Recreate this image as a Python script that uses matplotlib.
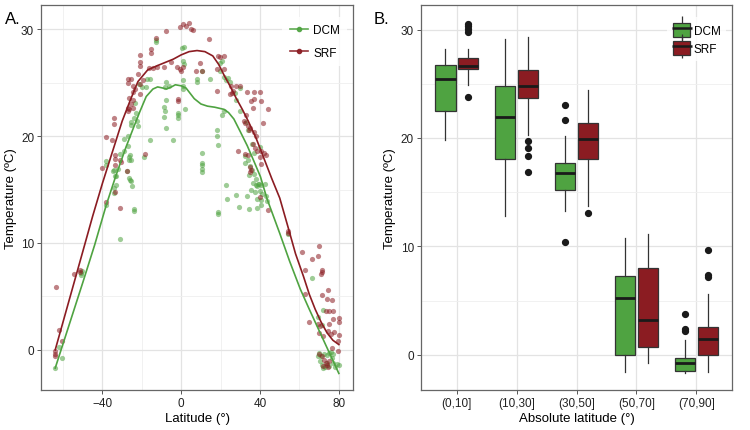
import matplotlib
matplotlib.use("Agg")
import matplotlib.pyplot as plt
from matplotlib.lines import Line2D
from matplotlib.patches import Patch
import numpy as np

plt.rcParams['font.family'] = ['Liberation Sans', 'DejaVu Sans']

GREEN = '#4fa341'
RED = '#8b1c22'

# ---- panel A: scatter (lat, temp) ----
dcm_pts = [
    (-63.9, -1.7), (-60.7, -0.8), (-62, 0.3), (-51, 7.2), (-51, 7.0), (-50.5, 7.4),
    (-38.2, 17.7), (-38, 17.3), (-38.2, 13.6), (-34.3, 16.8), (-33, 16.3), (-33, 15.4),
    (-34.8, 16.7), (-33.5, 16.3), (-34.4, 15.1), (-34.4, 14.7), (-32.3, 16.9), (-31, 10.4),
    (-26.4, 16.1), (-26.2, 15.9), (-25, 15.3), (-25.5, 15.8), (-24, 13.2), (-24, 13.0),
    (-25.5, 17.8), (-25.8, 18.2), (-27.5, 16.7), (-26.6, 18.0), (-26.5, 17.8), (-27, 19.1),
    (-29, 18.6), (-31, 18.3), (-27, 20.0), (-29, 19.7), (-25.5, 21.3), (-25.5, 21.0),
    (-23, 22.2), (-24, 21.7), (-22.5, 21.4), (-21.8, 20.9), (-23.3, 23.1), (-21.5, 24.9),
    (-20, 24.6), (-18, 24.6), (-17.4, 25.3), (-16, 25.3), (-18.7, 18.0), (-16, 19.6),
    (-13, 29.0), (-12.9, 28.8),
    (-7.7, 25.1), (-8.5, 24.6), (-6, 24.7), (-7.7, 23.4), (-8.6, 22.7), (-8.4, 22.3),
    (-7.8, 20.8), (-8.7, 21.8), (-1.8, 22.2), (-1.5, 22.0), (-1.8, 21.7), (-4.3, 19.6),
    (0.7, 27.0), (1.5, 26.7), (0.7, 25.2), (0.7, 24.7), (0.7, 24.4), (2, 22.5),
    (0.5, 28.2), (1.2, 28.3), (7.8, 25.3), (8.2, 25.1), (14.6, 25.3), (10.3, 26.1),
    (19.8, 26.1), (21.6, 25.5), (22.5, 25.2), (23.5, 25.4), (24.8, 25.1), (21.6, 22.3),
    (20.8, 22.0), (18.3, 20.6), (17.9, 20.0), (18.5, 19.2), (10.6, 18.4), (10.6, 16.9),
    (10.6, 16.6), (10.3, 17.5), (10.3, 17.3), (18.4, 12.9), (18.4, 12.7), (22.6, 15.4),
    (28, 14.5), (33.5, 14.4), (29.6, 24.5), (20.5, 27.0), (19.5, 26.8),
    (32.6, 18.1), (32.6, 17.5), (34, 17.8), (35, 17.2), (36, 16.8), (34.5, 16.4),
    (37, 16.5), (38, 16.0), (36.5, 15.6), (38.5, 15.3), (35.5, 15.0), (37.5, 14.8),
    (39, 15.5), (40, 14.9), (40.5, 15.4), (41, 14.6), (43, 14.4), (40.5, 14.0),
    (38, 15.4), (39.5, 15.5), (42.6, 15.5), (38.5, 14.1), (40.5, 13.6), (43.6, 13.9),
    (34.5, 13.2), (38.7, 13.3), (23.2, 14.1), (29.2, 13.4), (36, 19.3), (37, 18.4),
    (40, 19.0), (34, 20.6), (33, 21.3), (30, 22.3), (28, 23.4), (27.5, 24.0),
    (54, 10.8), (66.3, 6.7), (71.8, 3.7), (69.6, 3.1), (71.2, 2.3), (70, -0.3),
    (71, -0.6), (72.5, -0.4), (74, -0.5), (75, -0.3), (76, -0.2), (77, -0.4),
    (71.5, -1.4), (73, -1.6), (75, -1.5), (77, -1.2), (78, -1.6), (79.2, -1.3),
    (80, -1.4), (70.5, -1.0), (74, -1.2), (76.5, -0.8), (72, -1.7), (69.5, -0.6),
]
srf_pts = [
    (-63.5, 5.9), (-62, 1.9), (-60.4, 0.8), (-64, -0.1), (-64, -0.4), (-64, -0.6),
    (-54.6, 7.1), (-51.2, 7.5), (-51.2, 7.3),
    (-40.3, 17.0), (-33.5, 17.9), (-33.5, 17.3), (-30.8, 17.6), (-33.5, 14.8), (-38.2, 13.8),
    (-31.1, 13.3), (-18.6, 18.3), (-34.1, 21.7), (-34, 21.1), (-38, 19.9), (-35, 19.6),
    (-33.8, 18.2), (-31.3, 17.8), (-27.4, 16.7), (-27, 25.3), (-25.4, 25.3), (-27, 25.0),
    (-24.6, 24.7), (-23.3, 24.4), (-24.6, 24.1), (-26.6, 23.6), (-24.6, 23.4), (-26.6, 22.5),
    (-24.6, 22.6), (-21, 24.9), (-21, 23.9), (-27, 22.6), (-27, 22.3), (-25.5, 23.0),
    (-21.2, 27.6), (-21, 26.9), (-21.2, 26.6), (-16.6, 26.4), (-14.4, 26.4), (-12.4, 26.5),
    (-8.6, 26.5), (-5.4, 26.9), (-2, 26.5), (-0.5, 26.3), (0.1, 26.1), (-15.6, 28.1),
    (-15.6, 27.8), (-12.9, 29.2), (-7.7, 29.8), (-0.6, 30.2), (-1.5, 23.5), (-1.5, 23.3),
    (-22, 25.8), (-19.5, 25.2),
    (0.7, 30.5), (2.5, 30.3), (5, 30.0), (6.2, 29.9), (4, 30.6), (14.1, 29.1),
    (0.7, 26.5), (7.6, 26.1), (10.5, 26.1), (9.4, 26.8), (18.5, 27.5), (19.9, 27.4),
    (21.6, 27.5), (17.9, 26.3), (21.6, 26.3), (18.3, 24.2), (24.8, 23.9), (25.6, 24.0),
    (26.5, 24.2), (25, 24.7), (28, 24.7), (29.6, 24.7), (33.2, 24.1), (36.8, 24.1),
    (40.2, 24.1), (35.5, 23.3), (36.8, 23.5), (40.5, 23.3), (36.3, 22.6), (44, 22.5),
    (32.6, 21.2), (34, 20.9), (34.5, 20.6), (35, 20.8), (41.5, 21.2), (37, 20.4),
    (31.6, 21.4), (36.6, 19.3), (37.5, 18.9), (38.3, 18.6), (28.8, 18.6), (32.6, 18.3),
    (34, 18.2), (40.3, 18.6), (43, 18.2), (42, 18.4), (34.9, 17.1), (35.5, 16.8),
    (34.9, 16.6), (39.8, 18.0), (40.3, 17.4), (44, 13.1), (40, 14.3), (38, 20.0), (33, 22.0),
    (54, 11.1), (54, 10.9), (61.2, 9.2), (70, 9.7), (66.4, 8.5), (69.4, 8.8),
    (62.6, 7.5), (71.2, 7.5), (71.5, 7.3), (71, 7.1), (74.3, 5.6), (63, 5.2),
    (71.2, 5.1), (73.9, 4.8), (76.6, 4.7), (73.5, 3.6), (75, 3.6), (77, 3.6),
    (80, 3.0), (80, 2.6), (64.7, 2.6), (69.5, 2.4), (70.5, 2.2), (75, 2.4),
    (77, 2.9), (70, 1.6), (72, 1.3), (74.5, 1.8), (76, 1.5), (77.5, 1.7),
    (80, 1.4), (79.5, 0.8), (76.7, 0.2), (79.5, -0.1), (70, -0.4), (71.5, -0.6),
    (72.5, -0.9), (73.5, -1.2), (74, -1.4), (74.5, -1.6), (72, -1.5), (75, -1.0),
]

# smoothed fits
dcm_fit_lat = [-64, -57, -50, -44, -38, -33, -28, -24, -21, -17.8, -14.4, -12, -9.5, -7.5,
               -5, -3, 0, 2.4, 4.5, 6.6, 10, 13.3, 17, 21.7, 24, 26.7, 30, 33.5, 37,
               40.2, 43.6, 47, 50, 55, 60.4, 65, 70, 75, 80]
dcm_fit_t = [-1.7, 2.3, 6.3, 9.8, 13.6, 16.4, 19.0, 20.9, 22.3, 23.7, 24.4, 24.6, 24.5, 24.4,
             24.6, 24.8, 24.7, 24.5, 24.0, 23.5, 23.0, 22.8, 22.7, 22.5, 22.2, 21.6, 20.4,
             19.1, 17.6, 16.2, 14.1, 12.4, 10.9, 8.3, 5.7, 3.8, 1.8, -0.2, -2.2]
srf_fit_lat = [-64, -57, -50, -45, -40, -35, -30, -26, -22, -17, -12, -8, -4, 0, 4, 8,
               12, 16, 19, 22, 25, 28, 31, 34, 38, 42, 46, 50, 54.5, 58, 62, 65, 68,
               71, 74, 77, 80]
srf_fit_t = [0.0, 4.6, 9.2, 12.5, 15.6, 18.5, 21.4, 23.3, 25.1, 26.2, 26.6, 26.9, 27.2, 27.6,
             27.9, 28.0, 27.9, 27.5, 26.7, 25.6, 24.6, 23.5, 22.5, 21.4, 19.8, 17.9, 16.0,
             14.2, 11.3, 9.0, 6.9, 5.2, 3.8, 2.6, 1.6, 0.9, 0.5]

# ---- panel B: box statistics ----
lat_bins = ['(0,10]', '(10,30]', '(30,50]', '(50,70]', '(70,90]']
# (whislo, q1, med, q3, whishi)
dcm_box = [(19.8, 22.5, 25.45, 26.7, 28.2),
           (12.8, 18.1, 21.9, 24.8, 29.1),
           (13.3, 15.2, 16.8, 17.7, 20.2),
           (-1.6, 0.0, 5.2, 7.3, 10.8),
           (-1.7, -1.5, -0.8, -0.3, 1.4)]
dcm_out = [[], [], [23.0, 21.7, 10.4], [], [3.8, 2.4, 2.2]]
srf_box = [(24.9, 26.4, 26.6, 27.4, 28.2),
           (20.3, 23.7, 24.8, 26.3, 29.3),
           (13.7, 18.1, 19.9, 21.4, 24.4),
           (-0.8, 0.7, 3.2, 8.0, 11.1),
           (-1.6, 0.0, 1.45, 2.55, 5.6)]
srf_out = [[30.5, 30.3, 30.05, 29.8, 23.8], [19.7, 19.1, 18.3, 16.9], [13.1], [], [9.7, 7.4, 7.2]]

fig = plt.figure(figsize=(7.5, 4.31), dpi=100)
axA = fig.add_axes([0.0547, 0.0928, 0.416, 0.893])
axB = fig.add_axes([0.561, 0.0928, 0.4155, 0.893])


def style(ax):
    ax.set_facecolor('white')
    for s in ax.spines.values():
        s.set_color('#666666')
        s.set_linewidth(0.9)
    ax.grid(True, which='major', color='#e3e3e3', lw=0.9, zorder=0)
    ax.grid(True, which='minor', color='#efefef', lw=0.6, zorder=0)
    ax.set_axisbelow(True)
    ax.tick_params(which='major', length=3, width=0.7, color='#555555',
                   labelsize=8.5, labelcolor='#222222', pad=2)
    ax.tick_params(which='minor', length=0)


# ---- A ----
style(axA)
d = np.array(dcm_pts)
s = np.array(srf_pts)
axA.scatter(d[:, 0], d[:, 1], s=14, color=GREEN, alpha=0.55, lw=0, zorder=2)
axA.scatter(s[:, 0], s[:, 1], s=14, color=RED, alpha=0.55, lw=0, zorder=2)
axA.plot(dcm_fit_lat, dcm_fit_t, color=GREEN, lw=1.2, zorder=3)
axA.plot(srf_fit_lat, srf_fit_t, color=RED, lw=1.2, zorder=3)
axA.set_xlim(-71.2, 87.2)
axA.set_ylim(-3.75, 32.25)
axA.set_xticks([-40, 0, 40, 80])
axA.set_xticks([-60, -20, 20, 60], minor=True)
axA.set_yticks([0, 10, 20, 30])
axA.set_yticks([5, 15, 25], minor=True)
axA.set_xticklabels(['\u221240', '0', '40', '80'])
axA.set_xlabel('Latitude (\u00b0)', fontsize=9.5, labelpad=2)
axA.set_ylabel('Temperature (\u00baC)', fontsize=9.5, labelpad=3)
hA = [Line2D([], [], color=GREEN, marker='o', ms=3, lw=1.2, alpha=0.9),
      Line2D([], [], color=RED, marker='o', ms=3, lw=1.2, alpha=0.9)]
legA = axA.legend(hA, ['DCM', 'SRF'], loc='upper right', bbox_to_anchor=(1.0, 0.985),
                  frameon=True, fontsize=8.5, handlelength=1.6, handletextpad=0.4,
                  labelspacing=0.9, borderpad=0.6)
legA.get_frame().set_edgecolor('white')
legA.get_frame().set_linewidth(0)

# ---- B ----
style(axB)
pos = np.arange(1, len(lat_bins) + 1)
off = 0.19
bw = 0.34


def stats(vals, outs, lab):
    lo, q1, med, q3, hi = vals
    return dict(whislo=lo, q1=q1, med=med, q3=q3, whishi=hi, fliers=outs, label=lab)


for box, outs, col, sign in [(dcm_box, dcm_out, GREEN, -1), (srf_box, srf_out, RED, 1)]:
    st = [stats(b, o, l) for b, o, l in zip(box, outs, lat_bins)]
    axB.bxp(st, positions=pos + sign * off, widths=bw, patch_artist=True,
            showcaps=False, manage_ticks=False,
            boxprops=dict(facecolor=col, edgecolor='#333333', lw=0.9),
            medianprops=dict(color='#1a1a1a', lw=2.0),
            whiskerprops=dict(color='#333333', lw=0.9),
            flierprops=dict(marker='o', markerfacecolor='#1a1a1a', markeredgecolor='#1a1a1a',
                            markersize=4.2))
axB.set_xlim(0.4, 5.6)
axB.set_ylim(-3.25, 32.25)
axB.set_xticks(pos)
axB.set_xticklabels(lat_bins)
axB.set_yticks([0, 10, 20, 30])
axB.set_yticks([5, 15, 25], minor=True)
axB.set_xlabel('Absolute latitude (\u00b0)', fontsize=9.5, labelpad=2)
axB.set_ylabel('Temperature (\u00baC)', fontsize=9.5, labelpad=3)


def box_key(col):
    stem = Line2D([], [], marker='|', markersize=17, mew=0.9, color='#333333', ls='none')
    body = Patch(facecolor=col, edgecolor='#333333', lw=0.9)
    med = Line2D([], [], marker='_', markersize=14, mew=1.8, color='#1a1a1a', ls='none')
    return (stem, body, med)


legB = axB.legend([box_key(GREEN), box_key(RED)], ['DCM', 'SRF'], loc='upper right',
                  bbox_to_anchor=(1.0, 0.985), frameon=True, fontsize=8.5,
                  handlelength=1.45, handleheight=1.45, handletextpad=0.3,
                  labelspacing=0.35, borderpad=0.5)
legB.get_frame().set_edgecolor('white')
legB.get_frame().set_linewidth(0)

fig.text(0.007, 0.945, 'A.', fontsize=12)
fig.text(0.498, 0.945, 'B.', fontsize=12)

fig.savefig('out.png', dpi=100)
